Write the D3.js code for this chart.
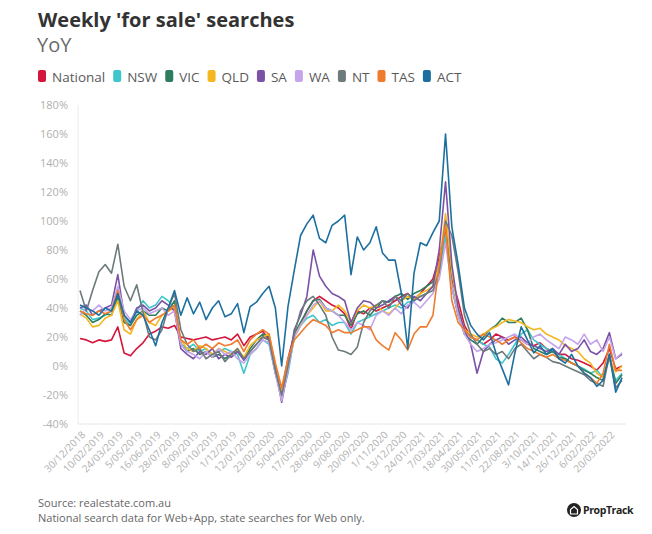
<!DOCTYPE html>
<html><head><meta charset="utf-8">
<script src="https://cdn.jsdelivr.net/npm/d3@7"></script>
<style>
body{margin:0;background:#fff;}
svg{display:block;font-family:'Open Sans',sans-serif;}
</style>
</head><body>
<svg id="chart" width="652" height="534"></svg>
<script>
// ---- DATA ----
const titleText = "Weekly 'for sale' searches";
const subtitleText = "YoY";
const sourceLines = ["Source: realestate.com.au", "National search data for Web+App, state searches for Web only."];
const startDate = "30/12/2018";   // first week of the series
const weekStep = 2;                // one value every second week
const tickEvery = 6;               // one labelled tick every 6 weeks
const tickLabels = ["30/12/2018","10/02/2019","24/03/2019","5/05/2019","16/06/2019","28/07/2019","8/09/2019","20/10/2019","1/12/2019","12/01/2020","23/02/2020","5/04/2020","17/05/2020","28/06/2020","9/08/2020","20/09/2020","1/11/2020","13/12/2020","24/01/2021","7/03/2021","18/04/2021","30/05/2021","11/07/2021","22/08/2021","3/10/2021","14/11/2021","26/12/2021","6/02/2022","20/03/2022"];
const yTicks = [-40,-20,0,20,40,60,80,100,120,140,160,180];
const seriesNames = ["National","NSW","VIC","QLD","SA","WA","NT","TAS","ACT"];
const seriesColors = ["#d4163c","#3ec6cb","#2e7d5e","#f4b720","#7b52a6","#c5a4ea","#6d7a7c","#ef7c2e","#1d6fa0"];

const national = [19,18,16,18,17,18,27,9,7,12, 16,22,24,27,26,28,20,19,18,19, 20,18,19,20,18,22,14,20,22,24, 18,-5,-18,5,22,28,38,45,48,45, 42,40,36,25,38,36,40,38,40,42, 45,48,50,46,50,55,60,75,95,60, 45,28,20,18,15,18,22,20,18,20, 18,15,14,16,12,10,8,8,5,4, 2,0,-3,2,12,-2,0];
const nsw = [40,38,32,33,35,38,45,33,28,38, 45,40,42,48,45,40,15,12,15,10, 12,8,10,12,10,8,-5,8,12,18, 15,-5,-22,-5,20,28,33,35,30,32, 28,30,30,22,30,32,34,36,38,40, 42,40,44,45,48,50,55,65,90,55, 35,25,20,18,15,13,5,2,8,15, 22,25,18,15,12,10,8,5,2,0, -2,-5,-3,-8,5,-10,-5];
const vic = [38,35,30,32,36,35,48,30,28,35, 38,35,35,40,38,45,15,10,12,8, 10,6,8,5,8,10,5,12,18,22, 20,0,-20,2,22,30,38,45,46,40, 38,35,35,28,36,38,35,40,45,44, 48,50,46,50,52,55,58,70,98,55, 35,22,18,15,20,25,28,33,30,30, 33,25,12,10,8,10,6,5,2,0, -3,-5,-8,-10,8,-12,-6];
const qld = [36,33,27,28,33,35,45,25,22,32, 38,30,28,35,38,40,18,12,10,14, 12,8,12,10,8,12,6,14,18,20, 22,0,-18,0,20,28,35,40,45,38, 38,42,38,30,38,42,40,42,38,36, 40,45,48,46,50,52,55,70,105,65, 40,25,22,20,22,25,27,30,32,31, 30,27,25,26,22,20,18,14,12,10, 5,2,-5,-8,5,-4,0];
const sa = [40,42,35,38,40,42,63,35,30,40, 42,38,40,45,42,38,12,8,5,10, 8,12,5,8,6,10,4,10,15,20, 18,-2,-25,-2,25,35,48,80,62,55, 50,48,45,30,40,45,44,40,42,45, 48,42,40,48,45,50,55,80,127,70, 40,25,15,-5,10,15,18,20,15,18, 20,16,14,12,10,12,8,15,10,12, 18,10,8,12,23,5,8];
const wa = [35,40,38,42,38,40,55,38,32,38, 40,36,38,40,35,38,15,10,8,5, 10,6,12,8,10,5,2,8,12,18, 16,-5,-24,-3,20,28,35,42,45,40, 38,35,30,25,30,28,25,35,38,35, 40,36,42,44,40,45,50,60,85,55, 35,22,15,10,12,15,16,18,20,22, 18,15,20,22,18,15,12,20,18,15, 22,15,18,10,20,5,9];
const nt = [52,38,52,65,70,64,84,55,45,56, 37,20,18,25,40,50,25,15,10,12, 5,8,10,3,8,12,5,10,15,20, 18,-3,-20,0,22,38,45,48,42,35, 20,11,10,8,13,30,38,42,45,40, 48,45,50,45,48,50,52,65,100,90, 65,35,22,15,10,12,8,10,5,12, 15,10,5,8,6,3,2,0,-2,-4, -6,-10,-12,-14,8,-15,-10];
const tas = [38,36,35,38,36,38,52,32,25,32, 35,30,33,35,38,42,18,15,18,12, 15,12,16,14,15,18,10,18,22,25, 22,2,-15,5,18,23,28,32,30,28, 23,25,23,23,25,27,27,18,14,11, 23,18,11,22,27,27,35,70,97,45, 30,25,20,18,22,20,18,15,18,20, 16,12,10,8,6,8,5,4,2,0, -5,-8,-12,-5,15,-3,-3];
const act = [42,40,38,35,40,38,50,35,30,38, 35,25,14,30,40,52,35,47,36,44, 32,40,45,34,36,43,23,41,44,50, 55,40,0,41,66,90,98,104,88,85, 97,100,104,63,89,80,85,96,78,73, 73,50,12,64,85,83,92,100,160,96, 70,40,28,22,18,23,9,-2,-13,9, 27,18,9,14,8,12,5,2,8,0, -5,-8,-14,-10,8,-18,-8];
const seriesValues = [national,nsw,vic,qld,sa,wa,nt,tas,act];

// ---- CHART ----
const svg = d3.select("#chart");
const nWeeks = (national.length - 1) * weekStep;
const x = d3.scaleLinear().domain([0, nWeeks]).range([80, 622]);
const y = d3.scaleLinear().domain([-40, 180]).range([424, 105]);

// title
svg.append("text").attr("x", 38).attr("y", 27).attr("font-size", 20).attr("font-weight", 700)
  .attr("fill", "#333").text(titleText);
svg.append("text").attr("x", 37).attr("y", 52).attr("font-size", 20).attr("font-weight", 400)
  .attr("fill", "#6a6a6a").text(subtitleText);

// legend
let lx = 38;
const legend = svg.append("g");
seriesNames.forEach((name, i) => {
  legend.append("rect").attr("x", lx).attr("y", 70).attr("width", 8).attr("height", 12)
    .attr("rx", 2).attr("fill", seriesColors[i]);
  const t = legend.append("text").attr("x", lx + 14).attr("y", 81.5).attr("font-size", 13.5)
    .attr("fill", "#5a5a5a").text(name);
  lx += 14 + t.node().getComputedTextLength() + 8;
});

// axes lines
svg.append("line").attr("x1", 78).attr("x2", 78).attr("y1", 105).attr("y2", 424)
  .attr("stroke", "#ececec").attr("stroke-width", 1);
svg.append("line").attr("x1", 78).attr("x2", 626).attr("y1", 424).attr("y2", 424)
  .attr("stroke", "#e6e6e6").attr("stroke-width", 1);

// y axis labels
const yAxis = d3.axisLeft(y).tickValues(yTicks).tickFormat(d => d + "%").tickSize(0).tickPadding(0);
const gy = svg.append("g").attr("transform", "translate(68,0)").call(yAxis);
gy.select(".domain").remove();
gy.selectAll("text").attr("font-size", 11).attr("fill", "#b0b0b0").attr("font-family", "'Open Sans',sans-serif");

// x axis labels
const tickWeeks = tickLabels.map((d, i) => i * tickEvery);
const xAxis = d3.axisBottom(x).tickValues(tickWeeks).tickFormat((d, i) => tickLabels[i]).tickSize(0).tickPadding(0);
const gx = svg.append("g").attr("transform", "translate(0,430)").call(xAxis);
gx.select(".domain").remove();
gx.selectAll("text").attr("font-size", 10).attr("fill", "#b0b0b0").attr("font-family", "'Open Sans',sans-serif")
  .attr("text-anchor", "end").attr("dy", "0.35em")
  .attr("transform", "translate(3,3) rotate(-45)");

// lines
const line = d3.line().x((d, i) => x(i * weekStep)).y(d => y(d));
seriesValues.forEach((vals, i) => {
  svg.append("path").datum(vals).attr("d", line).attr("fill", "none")
    .attr("stroke", seriesColors[i]).attr("stroke-width", 1.6).attr("stroke-linejoin", "round");
});

// footer
sourceLines.forEach((s, i) => {
  svg.append("text").attr("x", 38).attr("y", 507 + i * 15).attr("font-size", 11)
    .attr("fill", "#666").text(s);
});
// logo
const logo = svg.append("g");
logo.append("circle").attr("cx", 574).attr("cy", 510).attr("r", 7).attr("fill", "#222");
logo.append("path").attr("d", "M570.5,514 L570.5,509.5 L574,506.5 L577.5,509.5 L577.5,514 Z")
  .attr("fill", "none").attr("stroke", "#fff").attr("stroke-width", 1.2);
logo.append("text").attr("x", 583).attr("y", 514).attr("font-size", 10.5).attr("font-weight", 700)
  .attr("fill", "#222").attr("letter-spacing", -0.4).text("PropTrack");
</script>
</body></html>
